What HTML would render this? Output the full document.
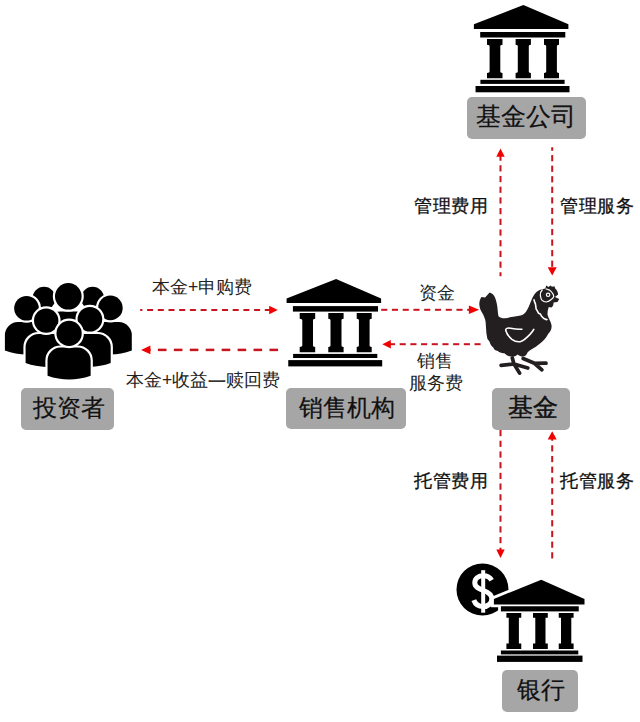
<!DOCTYPE html>
<html><head><meta charset="utf-8">
<style>
html,body{margin:0;padding:0;background:#fff;width:640px;height:722px;overflow:hidden;}
body{position:relative;font-family:"Liberation Sans",sans-serif;color:#111;}
svg{position:absolute;left:0;top:0;}
.box{position:absolute;background:#a6a6a6;border-radius:5px;}
.t{position:absolute;white-space:nowrap;line-height:1;}
.big{font-size:24px;color:#111;-webkit-text-stroke:0.2px #111;}
.sm{font-size:17.5px;color:#222;}
.md{font-size:18px;color:#111;-webkit-text-stroke:0.3px #111;}
</style></head><body>
<svg width="640" height="722" viewBox="0 0 640 722">
<g fill="#000">
    <path d="M286.6,303.1 L286.6,298.4 L336.1,279 L381.1,298.4 L381.1,303.1 Z"/>
    <rect x="292.9" y="306.1" width="85.1" height="5.5"/>
    <path d="M299.7,313 H315.2 V318.8 C313.5,319 313,319.5 313,320.5 V345.3 C313,346.3 313.5,346.8 315.2,347 V352.3 H299.7 V347 C301.5,346.8 302.3,346.3 302.3,345.3 V320.5 C302.3,319.5 301.5,319 299.7,318.8 Z"/>
    <path d="M328.3,313 H343.6 V318.8 C341.9,319 341.5,319.5 341.5,320.5 V345.3 C341.5,346.3 341.9,346.8 343.6,347 V352.3 H328.3 V347 C330,346.8 330.5,346.3 330.5,345.3 V320.5 C330.5,319.5 330,319 328.3,318.8 Z"/>
    <path d="M356.7,313 H371.7 V318.8 C370,319 369.6,319.5 369.6,320.5 V345.3 C369.6,346.3 370,346.8 371.7,347 V352.3 H356.7 V347 C358.4,346.8 358.9,346.3 358.9,345.3 V320.5 C358.9,319.5 358.4,319 356.7,318.8 Z"/>
    <rect x="293.1" y="353.9" width="84.2" height="4.1"/>
    <rect x="288.25" y="360.1" width="93.95" height="6.3"/>
</g>
<g fill="#000" transform="translate(187.3,-274.1)">
    <path d="M286.6,303.1 L286.6,298.4 L336.1,279 L381.1,298.4 L381.1,303.1 Z"/>
    <rect x="292.9" y="306.1" width="85.1" height="5.5"/>
    <path d="M299.7,313 H315.2 V318.8 C313.5,319 313,319.5 313,320.5 V345.3 C313,346.3 313.5,346.8 315.2,347 V352.3 H299.7 V347 C301.5,346.8 302.3,346.3 302.3,345.3 V320.5 C302.3,319.5 301.5,319 299.7,318.8 Z"/>
    <path d="M328.3,313 H343.6 V318.8 C341.9,319 341.5,319.5 341.5,320.5 V345.3 C341.5,346.3 341.9,346.8 343.6,347 V352.3 H328.3 V347 C330,346.8 330.5,346.3 330.5,345.3 V320.5 C330.5,319.5 330,319 328.3,318.8 Z"/>
    <path d="M356.7,313 H371.7 V318.8 C370,319 369.6,319.5 369.6,320.5 V345.3 C369.6,346.3 370,346.8 371.7,347 V352.3 H356.7 V347 C358.4,346.8 358.9,346.3 358.9,345.3 V320.5 C358.9,319.5 358.4,319 356.7,318.8 Z"/>
    <rect x="293.1" y="353.9" width="84.2" height="4.1"/>
    <rect x="288.25" y="360.1" width="93.95" height="6.3"/>
</g>
<g fill="#000" stroke="#fff" stroke-width="4.4" paint-order="stroke">
<path d="M25.00,340.00 L25.00,325.00 A13,13 0 0 1 38.00,312.00 L50.00,312.00 A13,13 0 0 1 63.00,325.00 L63.00,340.00 Q44.00,346.00 25.00,340.00 Z"/>
<circle cx="44" cy="298.3" r="11.5"/>
<path d="M73.60,340.00 L73.60,325.00 A13,13 0 0 1 86.60,312.00 L98.60,312.00 A13,13 0 0 1 111.60,325.00 L111.60,340.00 Q92.60,346.00 73.60,340.00 Z"/>
<circle cx="92.6" cy="298.3" r="11.5"/>
<path d="M47.30,340.00 L47.30,324.50 A13,13 0 0 1 60.30,311.50 L76.30,311.50 A13,13 0 0 1 89.30,324.50 L89.30,340.00 Q68.30,346.00 47.30,340.00 Z"/>
<circle cx="68.3" cy="296.3" r="13.3"/>
<path d="M4.90,350.50 L4.90,335.10 A13,13 0 0 1 17.90,322.10 L35.10,322.10 A13,13 0 0 1 48.10,335.10 L48.10,350.50 Q26.50,358.50 4.90,350.50 Z"/>
<circle cx="26.5" cy="308.3" r="12.3"/>
<path d="M89.00,350.50 L89.00,335.10 A13,13 0 0 1 102.00,322.10 L118.80,322.10 A13,13 0 0 1 131.80,335.10 L131.80,350.50 Q110.40,358.50 89.00,350.50 Z"/>
<circle cx="110.4" cy="307.9" r="12.3"/>
<path d="M25.60,363.10 L25.60,347.10 A13,13 0 0 1 38.60,334.10 L53.80,334.10 A13,13 0 0 1 66.80,347.10 L66.80,363.10 Q46.20,370.70 25.60,363.10 Z"/>
<circle cx="46.2" cy="320.6" r="12.2"/>
<path d="M69.10,363.10 L69.10,347.10 A13,13 0 0 1 82.10,334.10 L97.70,334.10 A13,13 0 0 1 110.70,347.10 L110.70,363.10 Q89.90,370.70 69.10,363.10 Z"/>
<circle cx="89.9" cy="319.3" r="12.3"/>
<path d="M47.55,375.70 L47.55,360.60 A13,13 0 0 1 60.55,347.60 L77.65,347.60 A13,13 0 0 1 90.65,360.60 L90.65,375.70 Q69.10,383.30 47.55,375.70 Z"/>
<circle cx="69.1" cy="333.4" r="12.6"/>
</g>
<g fill="#231f20">
<path d="M481.4,297 L485.1,297.5 L489.6,292.6 C492,293.3 494,295 495,297.5 C496.5,301 497.5,306 497.8,311.6 C498,314 498.2,315.3 498.5,316.2
 C500,317.6 502,318.3 504,318.3 C507,318.2 509,317.5 511.6,317.1 C516,316.5 520,315.7 522.8,314.8 C524.5,313.8 526,311.8 527.3,309.5
 C529,306.5 530.3,303 531.3,300.5 C532.3,297.5 533.8,295 535.3,293.2 C537.3,291 539.3,290 541,289.6
 C542.5,289 544,288.6 545.3,288.4 L546.3,285.6 L548.5,287 L550.5,285.4 L552,286.8 L554.4,286.2 L555.2,288.5
 C557,290 558,292 558.1,294.5 L555,297 L559.2,298.9 L557.5,302 L553.5,302.5
 C553.8,304.5 552.8,306.8 551.2,307.6 L548.75,307 C547.8,309.5 547.4,312 547.5,314.5
 C548,318 551,321 551.6,325.5 C551.8,329 550.5,331.5 548.1,334 C546,338 543,341.5 539.7,343.75
 C537,345.9 535,347.5 531.25,349.4 C529.5,350.5 528.5,351.5 527.5,352.5 C526.5,355 525,356.5 523.1,356.6 C521,356.6 519,355.5 517.5,354.4 C516,356 513.5,357 511,356.6 C508.5,356.2 506,354.8 504.4,353.2 C502,353.5 499.5,352.5 497.8,351 C495.5,350.8 494,349.5 493.5,347.8 C491.5,346.5 490,344 489.5,341.5 C488,340 487,338.5 487,336.5 C486.5,334 486.3,332.5 486.25,331 C486,327 485.8,324 485.5,321.25
 C485,318.5 483.5,315 482,312.5 C480.8,310.5 479.8,308.5 479.5,306 C479,303 479.5,300 481.4,297 Z"/>
<path d="M512.3,358 L514,364 M501.1,365.4 L514,364 L527.8,368 M514,364 L519.6,373.1" stroke="#231f20" stroke-width="3.7" fill="none" stroke-linecap="round" stroke-linejoin="round"/>
<path d="M523.1,358.5 L534.4,363.3 L546,363.2 M534.4,363.3 L541.9,369.8" stroke="#231f20" stroke-width="3.7" fill="none" stroke-linecap="round" stroke-linejoin="round"/>
<path d="M521.9,329.2 C519,329.5 514,328.9 510.5,328.2 C507.5,327.6 505.3,328.5 505.8,330.5 C506.5,333.3 509,337 511.9,339.4 C514.5,341.3 518,342 520.6,341.6 C523.5,340.8 527.5,337 530,334.4 C531.7,332.5 533,331 533.75,329.4" fill="none" stroke="#fff" stroke-width="1.6" stroke-linecap="round"/>
<path d="M533.8,299.3 L534.8,302.4 L535.4,303.9 L535.75,305.85 L536.1,309 L536.9,310.1 L538.5,313.2 L540.4,314 L541.6,316.3 L543.5,318.25 L545,319 L546.6,319.8 L547.4,319" fill="none" stroke="#fff" stroke-width="1.6" stroke-linejoin="round"/>
<path d="M542.5,289.5 C540.8,291.5 540,293.5 540.3,295.1 C540.5,297.5 541,299 541.9,300.1 C543,301.3 544.7,302 546.25,302 C548.3,301.6 550,300.6 551.25,299.5 C552.5,298.5 553.3,297.5 553.75,296.4 C553.5,295 553.2,294 552.5,293.25 C551.5,291.8 550.5,290.8 549.4,290.1 C548,289.4 546.8,289 545.6,288.9" fill="none" stroke="#fff" stroke-width="1.2"/>
<circle cx="548.1" cy="294.8" r="2.3" fill="#fff"/>
<circle cx="548.1" cy="294.8" r="1.1" fill="#231f20"/>
</g>

<circle cx="482.5" cy="589.5" r="26" fill="#000"/>
<path d="M491.6,580.2 C490,577.2 487,575.8 483.3,575.8 C478.3,575.8 474.8,578.6 474.8,582.8 C474.8,587.3 479.3,589 483.5,590.5 C488.3,592.2 491.8,594.2 491.8,598.8 C491.8,603.6 487.8,606.6 483.3,606.6 C478.8,606.6 475.3,604.4 473.8,600.2" fill="none" stroke="#fff" stroke-width="5"/>
<rect x="481.2" y="570.2" width="4" height="42.5" fill="#fff"/>

<g fill="#fff" stroke="#fff" stroke-width="5.6">
    <path d="M493.9,604.4 L493.9,598.9 L541.25,579.7 L584.5,598.9 L584.5,604.4 Z"/>
    <rect x="500.9" y="606.25" width="77.85" height="5.15"/>
    <path d="M506.4,613 H521.25 V617.7 H518.9 V643.4 H521.25 V648.9 H506.4 V643.4 H508.75 V617.7 H506.4 Z"/>
    <path d="M533,613 H547.8 V617.7 H545.5 V643.4 H547.8 V648.9 H533 V643.4 H535.3 V617.7 H533 Z"/>
    <path d="M558.75,613 H573.6 V617.7 H571.3 V643.4 H573.6 V648.9 H558.75 V643.4 H561 V617.7 H558.75 Z"/>
    <rect x="500.9" y="650.5" width="77.4" height="3.9"/>
    <rect x="497" y="655.6" width="85.5" height="6.3"/>
</g>
<g fill="#000">
    <path d="M493.9,604.4 L493.9,598.9 L541.25,579.7 L584.5,598.9 L584.5,604.4 Z"/>
    <rect x="500.9" y="606.25" width="77.85" height="5.15"/>
    <path d="M506.4,613 H521.25 V617.7 H518.9 V643.4 H521.25 V648.9 H506.4 V643.4 H508.75 V617.7 H506.4 Z"/>
    <path d="M533,613 H547.8 V617.7 H545.5 V643.4 H547.8 V648.9 H533 V643.4 H535.3 V617.7 H533 Z"/>
    <path d="M558.75,613 H573.6 V617.7 H571.3 V643.4 H573.6 V648.9 H558.75 V643.4 H561 V617.7 H558.75 Z"/>
    <rect x="500.9" y="650.5" width="77.4" height="3.9"/>
    <rect x="497" y="655.6" width="85.5" height="6.3"/>
</g>
<rect x="140.20" y="309.00" width="2.20" height="2.0" fill="#c8141e"/>
<rect x="147.10" y="309.00" width="6.00" height="2.0" fill="#c8141e"/>
<rect x="157.80" y="309.00" width="6.00" height="2.0" fill="#c8141e"/>
<rect x="168.50" y="309.00" width="6.00" height="2.0" fill="#c8141e"/>
<rect x="179.20" y="309.00" width="6.00" height="2.0" fill="#c8141e"/>
<rect x="189.90" y="309.00" width="6.00" height="2.0" fill="#c8141e"/>
<rect x="200.60" y="309.00" width="6.00" height="2.0" fill="#c8141e"/>
<rect x="211.30" y="309.00" width="6.00" height="2.0" fill="#c8141e"/>
<rect x="222.00" y="309.00" width="6.00" height="2.0" fill="#c8141e"/>
<rect x="232.70" y="309.00" width="6.00" height="2.0" fill="#c8141e"/>
<rect x="243.40" y="309.00" width="6.00" height="2.0" fill="#c8141e"/>
<rect x="254.10" y="309.00" width="6.00" height="2.0" fill="#c8141e"/>
<rect x="264.80" y="309.00" width="5.20" height="2.0" fill="#c8141e"/>
<polygon points="277.80,310.00 269.20,305.70 269.20,314.30" fill="#f00000"/>
<rect x="150.00" y="348.65" width="0.56" height="2.5" fill="#c8141e"/>
<rect x="157.90" y="348.65" width="8.60" height="2.5" fill="#c8141e"/>
<rect x="173.84" y="348.65" width="8.60" height="2.5" fill="#c8141e"/>
<rect x="189.78" y="348.65" width="8.60" height="2.5" fill="#c8141e"/>
<rect x="205.72" y="348.65" width="8.60" height="2.5" fill="#c8141e"/>
<rect x="221.66" y="348.65" width="8.60" height="2.5" fill="#c8141e"/>
<rect x="237.60" y="348.65" width="8.60" height="2.5" fill="#c8141e"/>
<rect x="253.54" y="348.65" width="8.60" height="2.5" fill="#c8141e"/>
<rect x="269.48" y="348.65" width="8.60" height="2.5" fill="#c8141e"/>
<polygon points="141.10,349.90 150.40,345.45 150.40,354.35" fill="#f00000"/>
<rect x="381.20" y="308.80" width="6.10" height="2.0" fill="#c8141e"/>
<rect x="391.95" y="308.80" width="6.10" height="2.0" fill="#c8141e"/>
<rect x="402.70" y="308.80" width="6.10" height="2.0" fill="#c8141e"/>
<rect x="413.45" y="308.80" width="6.10" height="2.0" fill="#c8141e"/>
<rect x="424.20" y="308.80" width="6.10" height="2.0" fill="#c8141e"/>
<rect x="434.95" y="308.80" width="6.10" height="2.0" fill="#c8141e"/>
<rect x="445.70" y="308.80" width="6.10" height="2.0" fill="#c8141e"/>
<rect x="456.45" y="308.80" width="6.10" height="2.0" fill="#c8141e"/>
<rect x="467.20" y="308.80" width="2.80" height="2.0" fill="#c8141e"/>
<polygon points="479.10,309.80 468.90,305.60 468.90,314.00" fill="#f00000"/>
<rect x="389.00" y="343.20" width="6.08" height="2.0" fill="#c8141e"/>
<rect x="399.67" y="343.20" width="6.10" height="2.0" fill="#c8141e"/>
<rect x="410.36" y="343.20" width="6.10" height="2.0" fill="#c8141e"/>
<rect x="421.05" y="343.20" width="6.10" height="2.0" fill="#c8141e"/>
<rect x="431.74" y="343.20" width="6.10" height="2.0" fill="#c8141e"/>
<rect x="442.43" y="343.20" width="6.10" height="2.0" fill="#c8141e"/>
<rect x="453.12" y="343.20" width="6.10" height="2.0" fill="#c8141e"/>
<rect x="463.81" y="343.20" width="6.10" height="2.0" fill="#c8141e"/>
<rect x="474.50" y="343.20" width="6.10" height="2.0" fill="#c8141e"/>
<polygon points="382.30,344.20 390.80,340.00 390.80,348.40" fill="#f00000"/>
<rect x="499.50" y="155.00" width="2.0" height="5.75" fill="#c8141e"/>
<rect x="499.50" y="165.25" width="2.0" height="6.20" fill="#c8141e"/>
<rect x="499.50" y="175.95" width="2.0" height="6.20" fill="#c8141e"/>
<rect x="499.50" y="186.65" width="2.0" height="6.20" fill="#c8141e"/>
<rect x="499.50" y="197.35" width="2.0" height="6.20" fill="#c8141e"/>
<rect x="499.50" y="208.05" width="2.0" height="6.20" fill="#c8141e"/>
<rect x="499.50" y="218.75" width="2.0" height="6.20" fill="#c8141e"/>
<rect x="499.50" y="229.45" width="2.0" height="6.20" fill="#c8141e"/>
<rect x="499.50" y="240.15" width="2.0" height="6.20" fill="#c8141e"/>
<rect x="499.50" y="250.85" width="2.0" height="6.20" fill="#c8141e"/>
<rect x="499.50" y="261.55" width="2.0" height="6.20" fill="#c8141e"/>
<rect x="499.50" y="272.25" width="2.0" height="3.95" fill="#c8141e"/>
<polygon points="500.50,148.40 496.30,156.80 504.70,156.80" fill="#f00000"/>
<rect x="551.20" y="147.25" width="2.0" height="3.50" fill="#c8141e"/>
<rect x="551.20" y="155.10" width="2.0" height="6.20" fill="#c8141e"/>
<rect x="551.20" y="165.65" width="2.0" height="6.20" fill="#c8141e"/>
<rect x="551.20" y="176.20" width="2.0" height="6.20" fill="#c8141e"/>
<rect x="551.20" y="186.75" width="2.0" height="6.20" fill="#c8141e"/>
<rect x="551.20" y="197.30" width="2.0" height="6.20" fill="#c8141e"/>
<rect x="551.20" y="207.85" width="2.0" height="6.20" fill="#c8141e"/>
<rect x="551.20" y="218.40" width="2.0" height="6.20" fill="#c8141e"/>
<rect x="551.20" y="228.95" width="2.0" height="6.20" fill="#c8141e"/>
<rect x="551.20" y="239.50" width="2.0" height="6.20" fill="#c8141e"/>
<rect x="551.20" y="250.05" width="2.0" height="6.20" fill="#c8141e"/>
<rect x="551.20" y="260.60" width="2.0" height="6.20" fill="#c8141e"/>
<polygon points="552.20,275.60 547.70,267.20 556.70,267.20" fill="#f00000"/>
<rect x="499.50" y="430.00" width="2.0" height="6.20" fill="#c8141e"/>
<rect x="499.50" y="440.70" width="2.0" height="6.20" fill="#c8141e"/>
<rect x="499.50" y="451.40" width="2.0" height="6.20" fill="#c8141e"/>
<rect x="499.50" y="462.10" width="2.0" height="6.20" fill="#c8141e"/>
<rect x="499.50" y="472.80" width="2.0" height="6.20" fill="#c8141e"/>
<rect x="499.50" y="483.50" width="2.0" height="6.20" fill="#c8141e"/>
<rect x="499.50" y="494.20" width="2.0" height="6.20" fill="#c8141e"/>
<rect x="499.50" y="504.90" width="2.0" height="6.20" fill="#c8141e"/>
<rect x="499.50" y="515.60" width="2.0" height="6.20" fill="#c8141e"/>
<rect x="499.50" y="526.30" width="2.0" height="6.20" fill="#c8141e"/>
<rect x="499.50" y="537.00" width="2.0" height="6.20" fill="#c8141e"/>
<rect x="499.50" y="547.70" width="2.0" height="2.30" fill="#c8141e"/>
<polygon points="500.50,557.90 496.30,549.50 504.70,549.50" fill="#f00000"/>
<rect x="551.20" y="438.00" width="2.0" height="2.75" fill="#c8141e"/>
<rect x="551.20" y="445.25" width="2.0" height="6.20" fill="#c8141e"/>
<rect x="551.20" y="455.95" width="2.0" height="6.20" fill="#c8141e"/>
<rect x="551.20" y="466.65" width="2.0" height="6.20" fill="#c8141e"/>
<rect x="551.20" y="477.35" width="2.0" height="6.20" fill="#c8141e"/>
<rect x="551.20" y="488.05" width="2.0" height="6.20" fill="#c8141e"/>
<rect x="551.20" y="498.75" width="2.0" height="6.20" fill="#c8141e"/>
<rect x="551.20" y="509.45" width="2.0" height="6.20" fill="#c8141e"/>
<rect x="551.20" y="520.15" width="2.0" height="6.20" fill="#c8141e"/>
<rect x="551.20" y="530.85" width="2.0" height="6.20" fill="#c8141e"/>
<rect x="551.20" y="541.55" width="2.0" height="6.20" fill="#c8141e"/>
<rect x="551.20" y="552.25" width="2.0" height="6.20" fill="#c8141e"/>
<polygon points="552.20,431.20 547.70,439.60 556.70,439.60" fill="#f00000"/>
</svg>
<div class="box" style="left:466.6px;top:96.5px;width:119.6px;height:42.5px"></div>
<div class="box" style="left:20.9px;top:387.7px;width:92.8px;height:42.5px"></div>
<div class="box" style="left:285.9px;top:388.1px;width:119.9px;height:41.2px"></div>
<div class="box" style="left:492.25px;top:387.5px;width:78px;height:42px"></div>
<div class="box" style="left:501.5px;top:670.25px;width:76.5px;height:42px"></div>
<div class="t big" style="left:476.3px;top:104px;font-size:25px">基金公司</div>
<div class="t big" style="left:32.6px;top:396px">投资者</div>
<div class="t big" style="left:298.5px;top:395.6px">销售机构</div>
<div class="t big" style="left:507.7px;top:394.8px;font-size:25px;-webkit-text-stroke:0.45px #111">基金</div>
<div class="t big" style="left:517px;top:677.8px">银行</div>
<div class="t sm" style="left:152px;top:279px">本金+申购费</div>
<div class="t sm" style="left:126px;top:372px">本金+收益<span style="position:relative;top:2.2px;-webkit-text-stroke:0.4px #222">一</span>赎回费</div>
<div class="t sm" style="left:418.5px;top:284px;font-size:18px">资金</div>
<div class="t sm" style="left:417px;top:353px">销售</div>
<div class="t sm" style="left:409px;top:375px">服务费</div>
<div class="t md" style="left:414px;top:196.5px;font-size:18.3px;letter-spacing:0.7px">管理费用</div>
<div class="t md" style="left:560px;top:196.5px;font-size:18.3px;letter-spacing:0.7px">管理服务</div>
<div class="t md" style="left:414px;top:471.5px;font-size:18.3px;letter-spacing:0.7px">托管费用</div>
<div class="t md" style="left:560px;top:471.5px;font-size:18.3px;letter-spacing:0.7px">托管服务</div>
</body></html>
